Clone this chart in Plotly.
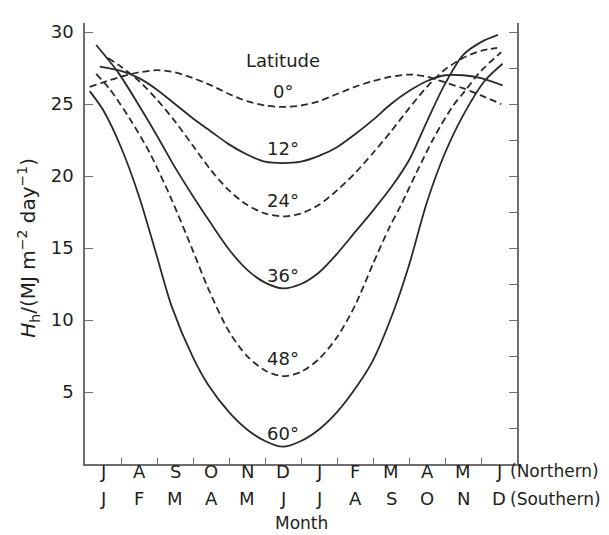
import plotly.graph_objects as go

# Month labels (between ticks)
months_north = ["J", "A", "S", "O", "N", "D", "J", "F", "M", "A", "M", "J"]
months_south = ["J", "F", "M", "A", "M", "J", "J", "A", "S", "O", "N", "D"]
month_pos = [0.5, 1.5, 2.5, 3.5, 4.5, 5.5, 6.5, 7.5, 8.5, 9.5, 10.5, 11.5]

# Curves (x in months from start of axis, y in MJ m-2 day-1)
lat0_x = [0.13, 0.5, 1.0, 1.5, 2.0, 2.5, 3.0, 3.5, 4.0, 4.5, 5.0, 5.5, 6.0, 6.5, 7.0, 7.5, 8.0, 8.5, 9.0, 9.5, 10.0, 10.5, 11.0, 11.56]
lat0_y = [26.2, 26.5, 26.9, 27.2, 27.35, 27.2, 26.8, 26.3, 25.7, 25.2, 24.9, 24.8, 24.9, 25.2, 25.7, 26.2, 26.6, 26.9, 27.05, 26.9, 26.5, 26.1, 25.6, 25.0]

lat12_x = [0.41, 1.0, 1.5, 2.0, 2.5, 3.0, 3.5, 4.0, 4.5, 5.0, 5.5, 6.0, 6.5, 7.0, 7.5, 8.0, 8.5, 9.0, 9.5, 10.0, 10.5, 11.0, 11.6]
lat12_y = [27.6, 27.3, 26.8, 26.0, 25.0, 24.0, 23.1, 22.2, 21.5, 21.0, 20.9, 21.0, 21.4, 22.0, 22.9, 23.9, 25.0, 25.9, 26.6, 27.0, 27.0, 26.8, 26.3]

lat24_x = [0.64, 1.0, 1.5, 2.0, 2.5, 3.0, 3.5, 4.0, 4.5, 5.0, 5.5, 6.0, 6.5, 7.0, 7.5, 8.0, 8.5, 9.0, 9.5, 10.0, 10.5, 11.0, 11.45]
lat24_y = [28.2, 27.6, 26.6, 25.3, 23.8, 22.1, 20.4, 19.0, 18.0, 17.4, 17.2, 17.4, 18.0, 19.0, 20.2, 21.6, 23.1, 24.7, 26.2, 27.4, 28.2, 28.7, 28.9]

lat36_x = [0.31, 0.92, 1.5, 2.0, 2.5, 3.0, 3.5, 4.0, 4.5, 5.0, 5.5, 6.0, 6.5, 7.0, 7.5, 8.0, 8.5, 9.0, 9.5, 10.0, 10.5, 11.0, 11.47]
lat36_y = [29.1, 27.2, 24.9, 22.8, 20.6, 18.6, 16.7, 14.9, 13.5, 12.6, 12.2, 12.5, 13.3, 14.6, 16.1, 17.6, 19.2, 21.1, 23.8, 26.4, 28.4, 29.3, 29.8]

lat48_x = [0.31, 0.7, 1.24, 1.8, 2.4, 3.0, 3.42, 4.0, 4.5, 5.0, 5.5, 6.0, 6.5, 7.0, 7.5, 8.0, 8.45, 8.78, 9.2, 9.7, 10.2, 10.55, 11.0, 11.56]
lat48_y = [27.1, 26.0, 24.0, 21.6, 18.4, 14.8, 12.2, 9.2, 7.5, 6.5, 6.1, 6.4, 7.3, 8.8, 11.0, 13.9, 16.4, 18.0, 20.2, 22.7, 24.8, 25.9, 27.3, 28.6]

lat60_x = [0.13, 0.5, 1.0, 1.5, 2.0, 2.4, 3.0, 3.42, 4.0, 4.5, 5.0, 5.5, 6.0, 6.5, 7.0, 7.58, 8.0, 8.6, 9.0, 9.5, 10.0, 10.5, 11.1, 11.6]
lat60_y = [25.9, 24.6, 22.0, 18.6, 14.4, 11.0, 7.4, 5.5, 3.6, 2.4, 1.6, 1.2, 1.6, 2.4, 3.6, 5.5, 7.2, 10.8, 13.8, 18.2, 21.6, 24.2, 26.6, 27.8]

# Latitude labels
lat_labels = ["0°", "12°", "24°", "36°", "48°", "60°"]
lat_label_x = [5.5, 5.5, 5.5, 5.5, 5.5, 5.5]
lat_label_y = [25.9, 21.9, 18.3, 13.1, 7.3, 2.1]

left_ticks = [5, 10, 15, 20, 25, 30]
right_ticks = [2.5, 5, 7.5, 10, 12.5, 15, 17.5, 20, 22.5, 25, 27.5, 30]
x_ticks = [1, 2, 3, 4, 5, 6, 7, 8, 9, 10, 11]

LINE = "#2a2a2a"
AX = "#6e6e6e"
TXT = "#231f20"
FONT = "DejaVu Sans"

curves = [
    (lat0_x, lat0_y, "7px,4px"),
    (lat12_x, lat12_y, "solid"),
    (lat24_x, lat24_y, "7px,4px"),
    (lat36_x, lat36_y, "solid"),
    (lat48_x, lat48_y, "7px,4px"),
    (lat60_x, lat60_y, "solid"),
]

fig = go.Figure()
for xs, ys, dash in curves:
    fig.add_trace(go.Scatter(
        x=xs, y=ys, mode="lines",
        line=dict(color=LINE, width=1.8, dash=dash, shape="spline", smoothing=0.8),
        showlegend=False, hoverinfo="skip"))

# invisible trace to activate right axis
fig.add_trace(go.Scatter(x=[6], y=[15], yaxis="y2", mode="markers",
                         marker=dict(opacity=0), showlegend=False, hoverinfo="skip"))

annotations = []
for lab, xx, yy in zip(lat_labels, lat_label_x, lat_label_y):
    annotations.append(dict(x=xx, y=yy, xref="x", yref="y", text=lab, showarrow=False,
                            font=dict(size=18, color=TXT, family=FONT)))
annotations.append(dict(x=5.5, y=28.0, xref="x", yref="y", text="Latitude", showarrow=False,
                        font=dict(size=18, color=TXT, family=FONT)))

for m, xx in zip(months_north, month_pos):
    annotations.append(dict(x=xx, y=-0.016, xref="x", yref="paper", text=m, showarrow=False,
                            yanchor="middle", font=dict(size=18, color=TXT, family=FONT)))
for m, xx in zip(months_south, month_pos):
    annotations.append(dict(x=xx, y=-0.079, xref="x", yref="paper", text=m, showarrow=False,
                            yanchor="middle", font=dict(size=18, color=TXT, family=FONT)))
annotations.append(dict(x=11.76, y=-0.016, xref="x", yref="paper", text="(Northern)", showarrow=False,
                        xanchor="left", yanchor="middle", font=dict(size=17, color=TXT, family=FONT)))
annotations.append(dict(x=11.76, y=-0.079, xref="x", yref="paper", text="(Southern)", showarrow=False,
                        xanchor="left", yanchor="middle", font=dict(size=17, color=TXT, family=FONT)))
annotations.append(dict(x=6.0, y=-0.106, xref="x", yref="paper", text="Month", showarrow=False,
                        yanchor="top", font=dict(size=17, color=TXT, family=FONT)))
annotations.append(dict(x=-0.13, y=0.49, xref="paper", yref="paper",
                        text="<i>H</i><sub>h</sub>/(MJ m<sup>−2</sup> day<sup>−1</sup>)",
                        textangle=-90, showarrow=False, xanchor="center", yanchor="middle",
                        font=dict(size=20, color=TXT, family=FONT)))

fig.update_layout(
    width=609, height=535,
    margin=dict(l=77, r=100, t=15, b=79),
    paper_bgcolor="white", plot_bgcolor="white",
    font=dict(family=FONT, color=TXT, size=18),
    xaxis=dict(range=[0, 12], showgrid=False, zeroline=False, showline=True,
               linecolor=AX, linewidth=1.6, ticks="inside", ticklen=6, tickwidth=1.3,
               tickcolor=AX, tickvals=x_ticks, showticklabels=False),
    yaxis=dict(range=[0, 30.63], showgrid=False, zeroline=False, showline=True,
               linecolor=AX, linewidth=1.6, ticks="inside", ticklen=8, tickwidth=1.3,
               tickcolor=AX, tickvals=left_ticks, ticklabelstandoff=6,
               tickfont=dict(size=18, color=TXT, family=FONT)),
    yaxis2=dict(range=[0, 30.63], overlaying="y", side="right", anchor="x",
                showgrid=False, zeroline=False, showline=True,
                linecolor=AX, linewidth=1.6, ticks="inside", ticklen=8, tickwidth=1.3,
                tickcolor=AX, tickvals=right_ticks, showticklabels=False),
    annotations=annotations,
)

fig.write_html("out.html")
